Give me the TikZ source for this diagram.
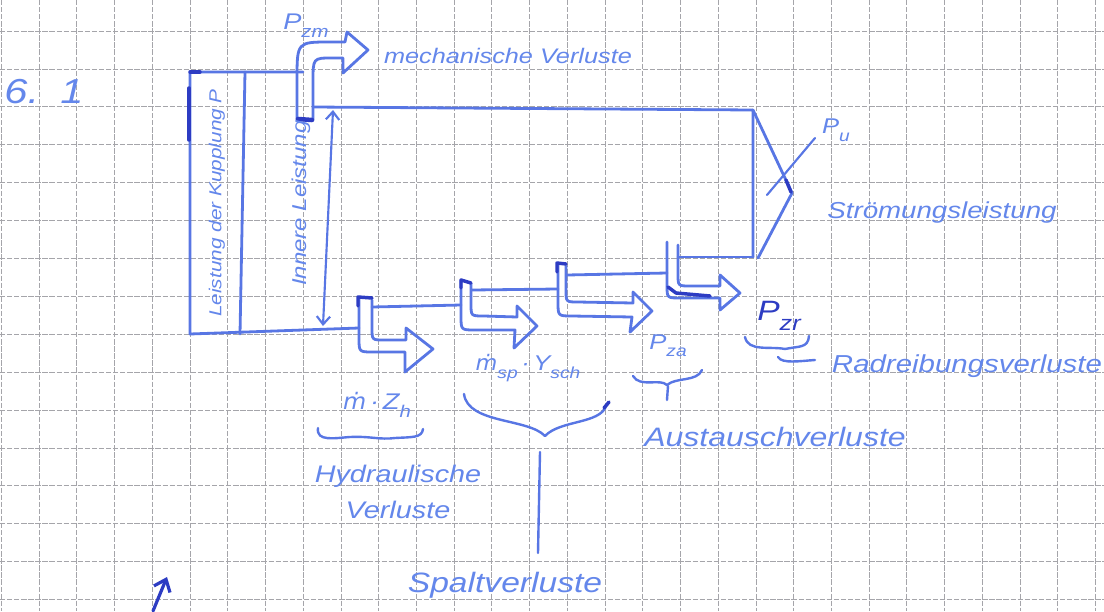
\documentclass[tikz,border=0pt]{standalone}
\usepackage{fontspec}
\usetikzlibrary{arrows.meta}
\newfontfamily\hand[FakeStretch=1.2]{Liberation Sans}
\newfontfamily\handalt[FakeStretch=1.05]{DejaVu Sans}
\definecolor{ink}{RGB}{88,118,228}
\definecolor{inkdark}{RGB}{45,60,195}
\definecolor{inktext}{RGB}{100,135,235}
\definecolor{gridgray}{RGB}{165,165,170}
% lowered, smaller subscript in text mode
\newcommand\hsub[1]{\raisebox{-0.35em}{\scalebox{0.75}{#1}}}
% m with a dot above (mass flow)
\newcommand\mdot{{\handalt\itshape ṁ}}
\tikzset{
  grid line/.style={gridgray, line width=0.55pt, dash pattern=on 4pt off 1.3pt},
  pen/.style={ink, line width=2.1pt, line cap=round, line join=round},
  darkpen/.style={inkdark, line width=2.6pt, line cap=round, line join=round},
  lbl/.style={inktext, inner sep=0pt},
  hand/.style={font={\hand\itshape\fontsize{#1}{#1}\selectfont}},
  barb/.style={-{Straight Barb[length=8pt,width=13pt]}},
  dbarb/.style={{Straight Barb[length=6pt,width=10pt]}-{Straight Barb[length=6pt,width=10pt]}},
}
\begin{document}
\begin{tikzpicture}[x=0.75pt,y=-0.75pt]
% paper
\fill[white] (0,0) rectangle (1104,611);
\useasboundingbox (0,0) rectangle (1104,611);
\foreach \i in {0,...,29} \draw[grid line] ({1.3+\i*37.73},0) -- ({1.3+\i*37.73},611);
\foreach \j in {1,...,16} \draw[grid line] (0,{-6.9+\j*37.9}) -- (1104,{-6.9+\j*37.9});

% ---- key points of the power flow ----
\coordinate (boxTL) at (190,72);
\coordinate (boxBL) at (190,334);
\coordinate (boxTR) at (303,72);
\coordinate (splitT) at (245,72);
\coordinate (splitB) at (240,334);
\coordinate (inTopL) at (313,107);
\coordinate (inTopR) at (753,110);
\coordinate (outBot) at (753,257);
\coordinate (tipU) at (792,193);
\coordinate (triB) at (758,258);
\coordinate (ptrA) at (767,195);
\coordinate (ptrB) at (815,138);
\coordinate (dimT) at (333,110);
\coordinate (dimB) at (323,326);

% coupling power box
\draw[pen] (boxTR) -- (boxTL) -- (boxBL) -- (359,328);
\draw[pen] (splitT) -- (splitB);
\draw[darkpen] (189,88) -- (189,140);
\draw[darkpen] (190,72) -- (200,72);

% mechanical losses (bent arrow upwards)
\draw[pen] (297,120) -- (297,80) .. controls (297,42) .. (330,42) -- (345,42)
  -- (347,32) -- (368,50) -- (343,73) -- (343,58) -- (332,58)
  .. controls (313,58) .. (313,82) -- (313,120);
\draw[darkpen, line width=3.4pt] (298,119) -- (312,120);

% internal power band
\draw[pen] (inTopL) -- (inTopR) -- (outBot);
\draw[pen] (inTopR) -- (tipU) -- (triB);
\draw[pen, line width=1.6pt] (ptrA) -- (ptrB);
\draw[darkpen] (786,180) -- (791,192);
\draw[dbarb, pen, line width=1.6pt] (dimT) -- (dimB);

% hydraulic losses
\draw[pen] (359,297) -- (359,338) .. controls (359,352) .. (373,352) -- (405,352)
  -- (405,372) -- (433,349) -- (406,328) -- (406,340) -- (384,340)
  .. controls (372,340) .. (372,328) -- (372,300);
\draw[darkpen] (358,306) -- (358,297) -- (372,298);
\draw[pen] (372,307) -- (461,305);

% leakage losses
\draw[pen] (461,280) -- (461,316) .. controls (461,330) .. (475,330) -- (515,330)
  -- (514,348) -- (537,326) -- (517,306) -- (517,317) -- (484,316)
  .. controls (471,316) .. (471,304) -- (471,284);
\draw[darkpen] (461,288) -- (461,280) -- (471,283);
\draw[pen] (472,290) -- (558,289);

% exchange losses
\draw[pen] (558,263) -- (558,302) .. controls (558,316) .. (572,316) -- (632,317)
  -- (630,332) -- (652,311) -- (633,292) -- (633,303) -- (578,302)
  .. controls (566,302) .. (566,290) -- (566,266);
\draw[darkpen] (557,272) -- (557,263) -- (566,264);
\draw[pen] (567,275) -- (667,273);

% disk friction losses
\draw[pen] (667,242) -- (667,285) .. controls (667,298) .. (680,298) -- (720,298)
  -- (720,310) -- (740,293) -- (720,275) -- (720,286) -- (690,286)
  .. controls (678,286) .. (678,274) -- (678,245);
\draw[darkpen] (668,287) -- (676,293) -- (710,296);
\draw[pen] (678,257) -- (outBot);

% ---- braces ----
\draw[pen, line width=1.8pt] (318,428) .. controls (316,442) and (335,438) .. (350,437)
  .. controls (370,436) and (380,440) .. (395,438) .. controls (412,437) and (422,438) .. (423,429);
\draw[pen, line width=1.8pt] (464,394) .. controls (468,424) and (528,418) .. (545,436)
  .. controls (560,420) and (600,424) .. (606,406);
\draw[darkpen] (604,408) -- (609,402);
\draw[pen, line width=1.8pt] (540,452) -- (538,553);
\draw[pen, line width=1.8pt] (633,376) .. controls (640,388) and (660,378) .. (667,385)
  .. controls (676,377) and (697,382) .. (702,370);
\draw[pen, line width=1.8pt] (668,386) -- (667,400);
\draw[pen, line width=1.8pt] (745,337) .. controls (748,352) and (770,346) .. (785,349)
  .. controls (800,346) and (808,348) .. (809,336);
\draw[pen, line width=1.8pt] (778,357) .. controls (782,364) and (800,361) .. (815,360);

% arrow at the lower margin
\coordinate (arrB) at (153,611);
\coordinate (arrT) at (167,577);
\draw[darkpen, line width=2.4pt, barb] (arrB) -- (arrT);

% ---- labels ----
\node[lbl, hand=26] (num) at (44,92) {6.\hspace{16pt}1};
\node[lbl, hand=17] (pzm) at (306,26) {P\hsub{zm}};
\node[lbl, hand=15.8] (mech) at (508,56) {mechanische Verluste};
\node[lbl, hand=16] (pu) at (836,130) {P\hsub{u}};
\node[lbl, hand=17.3] (stroem) at (942,213) {Strömungsleistung};
\node[lbl, hand=21, text=inkdark] (pzr) at (779,316) {P\hsub{zr}};
\node[lbl, hand=18.4] (radr) at (967,366) {Radreibungsverluste};
\node[lbl, hand=16] (pza) at (668,346) {P\hsub{za}};
\node[lbl, hand=20] (austausch) at (775,437) {Austauschverluste};
\node[lbl, hand=16] (msp) at (528,368) {\mdot\hsub{sp}\,·\,Y\hsub{sch}};
\node[lbl, hand=21] (spalt) at (505,585) {Spaltverluste};
\node[lbl, hand=17] (mzh) at (377,405) {\mdot\,·\,Z\hsub{h}};
\node[lbl, hand=18, align=center] (hydr) at (398,492) {Hydraulische\\[9pt]Verluste};
\node[lbl, hand=13, rotate=90] (kupplung) at (217,203) {Leistung der Kupplung P};
\node[lbl, hand=15, rotate=90] (innere) at (301,203) {Innere Leistung};
\end{tikzpicture}
\end{document}
